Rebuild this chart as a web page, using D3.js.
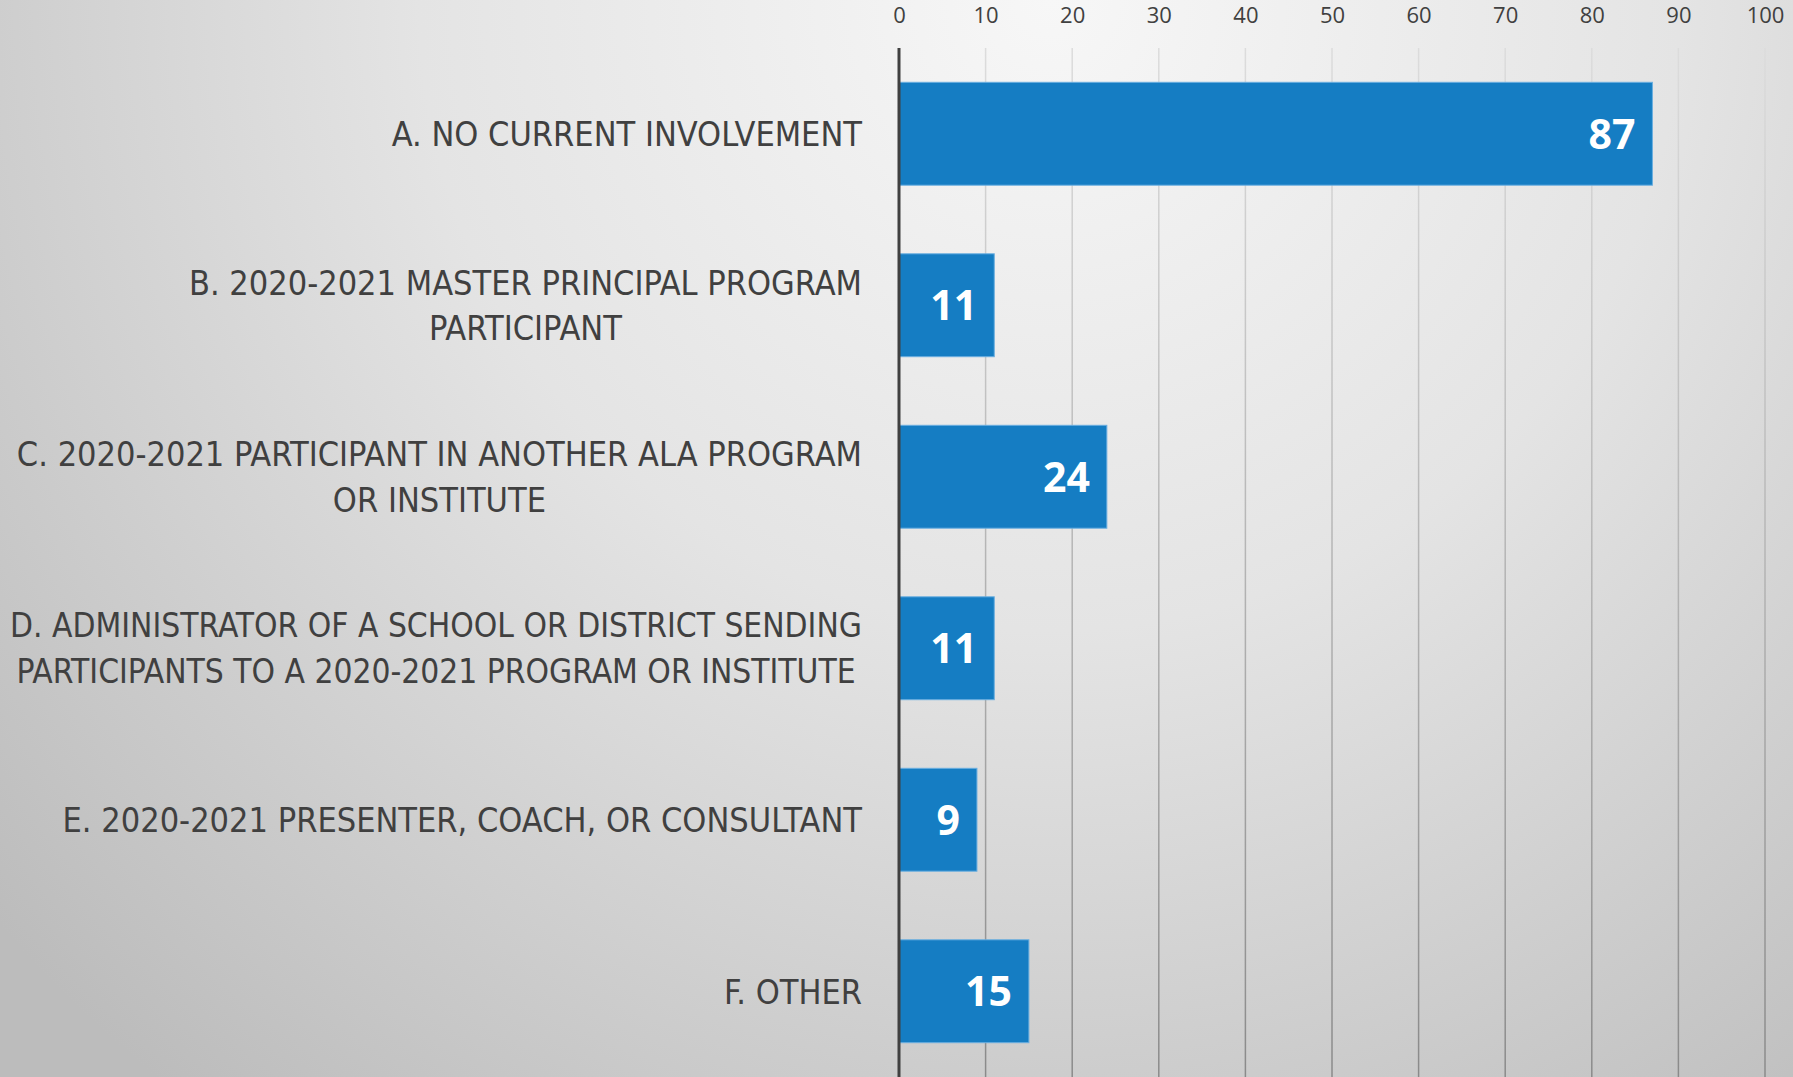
<!DOCTYPE html>
<html>
<head>
<meta charset="utf-8">
<script src="https://cdn.jsdelivr.net/npm/d3@7"></script>
<style>
  body { margin: 0; overflow: hidden; }
  svg { display: block; }
</style>
</head>
<body>
<div id="container"></div>
<script>
// categories, each one already split into the lines shown on the chart
var categories = [
	["A. NO CURRENT INVOLVEMENT"],
	["B. 2020-2021 MASTER PRINCIPAL PROGRAM", "PARTICIPANT"],
	["C. 2020-2021 PARTICIPANT IN ANOTHER ALA PROGRAM", "OR INSTITUTE"],
	["D. ADMINISTRATOR OF A SCHOOL OR DISTRICT SENDING", "PARTICIPANTS TO A 2020-2021 PROGRAM OR INSTITUTE"],
	["E. 2020-2021 PRESENTER, COACH, OR CONSULTANT"],
	["F. OTHER"]
];
var values = [87, 11, 24, 11, 9, 15];
var ticks = [0, 10, 20, 30, 40, 50, 60, 70, 80, 90, 100];

draw();

function draw() {
	var w = 1793,
		h = 1077,
		x0 = 899, //x of the zero line
		x1 = 1765,
		y0 = 48, //top of the plot area
		labelRight = 862, //right edge of the category labels
		labelMax = 852, //widest a label may get
		fontSize = 34;

	var svg = d3.select("div#container").append("svg")
		.attr("width", w)
		.attr("height", h);

	var defs = svg.append("defs");

	// background: light spot near the top middle, darker to the edges
	var bg = defs.append("radialGradient")
		.attr("id", "bg")
		.attr("gradientUnits", "userSpaceOnUse")
		.attr("cx", 1050).attr("cy", 0).attr("r", 1400);
	bg.append("stop").attr("offset", "0").attr("stop-color", "#f7f7f7");
	bg.append("stop").attr("offset", "0.45").attr("stop-color", "#e4e4e4");
	bg.append("stop").attr("offset", "1").attr("stop-color", "#bcbcbc");

	var grid = defs.append("linearGradient")
		.attr("id", "grid")
		.attr("gradientUnits", "userSpaceOnUse")
		.attr("x1", 0).attr("y1", y0).attr("x2", 0).attr("y2", h);
	grid.append("stop").attr("offset", "0").attr("stop-color", "#dcdcdc");
	grid.append("stop").attr("offset", "0.5").attr("stop-color", "#b4b4b4");
	grid.append("stop").attr("offset", "1").attr("stop-color", "#8a8a8a");

	svg.append("rect")
		.attr("width", w)
		.attr("height", h)
		.attr("fill", "url(#bg)");

	var x = d3.scaleLinear().domain([0, 100]).range([x0, x1]);
	var y = d3.scaleBand()
		.domain(d3.range(categories.length))
		.range([y0, h])
		.paddingInner(0.4)
		.paddingOuter(0.2);

	// gridlines
	svg.append("g")
		.selectAll("line")
		.data(ticks.slice(1))
		.enter().append("line")
		.attr("x1", function(d) { return x(d); })
		.attr("x2", function(d) { return x(d); })
		.attr("y1", y0)
		.attr("y2", h)
		.attr("stroke", "url(#grid)")
		.attr("stroke-width", 1.5);

	// top axis labels
	var axis = svg.append("g")
		.attr("transform", "translate(0,23)")
		.call(d3.axisTop(x).tickValues(ticks).tickSize(0).tickPadding(0));
	axis.select(".domain").remove();
	axis.selectAll("text")
		.attr("fill", "#404040")
		.style("font-family", "'Open Sans', sans-serif")
		.style("font-size", "22px");

	// bars
	svg.append("g")
		.selectAll("rect")
		.data(values)
		.enter().append("rect")
		.attr("x", x(0))
		.attr("y", function(d, i) { return y(i); })
		.attr("width", function(d) { return x(d) - x(0); })
		.attr("height", y.bandwidth())
		.attr("fill", "#157dc3")
		.attr("stroke", "#6aaee0")
		.attr("stroke-width", 1);

	// value labels inside the bars
	svg.append("g")
		.selectAll("text")
		.data(values)
		.enter().append("text")
		.attr("x", function(d) { return x(d) - 17; })
		.attr("y", function(d, i) { return y(i) + y.bandwidth() / 2; })
		.attr("dy", "0.36em")
		.attr("text-anchor", "end")
		.attr("fill", "#ffffff")
		.style("font-family", "'Open Sans', sans-serif")
		.style("font-weight", "bold")
		.style("font-size", "41px")
		.text(function(d) { return d; });

	// category labels: block right-aligned to the axis, lines centred in the block
	var labels = svg.append("g")
		.selectAll("text")
		.data(categories)
		.enter().append("text")
		.attr("text-anchor", "middle")
		.attr("fill", "#404040")
		.style("font-family", "'Liberation Sans Narrow', 'DejaVu Sans Condensed', sans-serif")
		.style("font-size", fontSize + "px")
		.attr("transform", function(d, i) {
			return "translate(" + labelRight + "," + (y(i) + y.bandwidth() / 2) + ")";
		});

	labels.selectAll("tspan")
		.data(function(d) { return d; })
		.enter().append("tspan")
		.attr("y", function(d, j, nodes) {
			return (j - (nodes.length - 1) / 2) * 46;
		})
		.attr("dy", "0.36em")
		.text(function(d) { return d; });

	labels.each(function() {
		var label = d3.select(this);
		var spans = label.selectAll("tspan");
		var widest = d3.max(spans.nodes(), function(n) { return n.getComputedTextLength(); });
		if (widest > labelMax) { //shrink the long ones so they stay on the page
			label.style("font-size", (fontSize * labelMax / widest) + "px");
			widest = labelMax;
		}
		spans.attr("x", -widest / 2);
	});

	// zero line
	svg.append("line")
		.attr("x1", x(0))
		.attr("x2", x(0))
		.attr("y1", y0)
		.attr("y2", h)
		.attr("stroke", "#404040")
		.attr("stroke-width", 3);
}
</script>
</body>
</html>
